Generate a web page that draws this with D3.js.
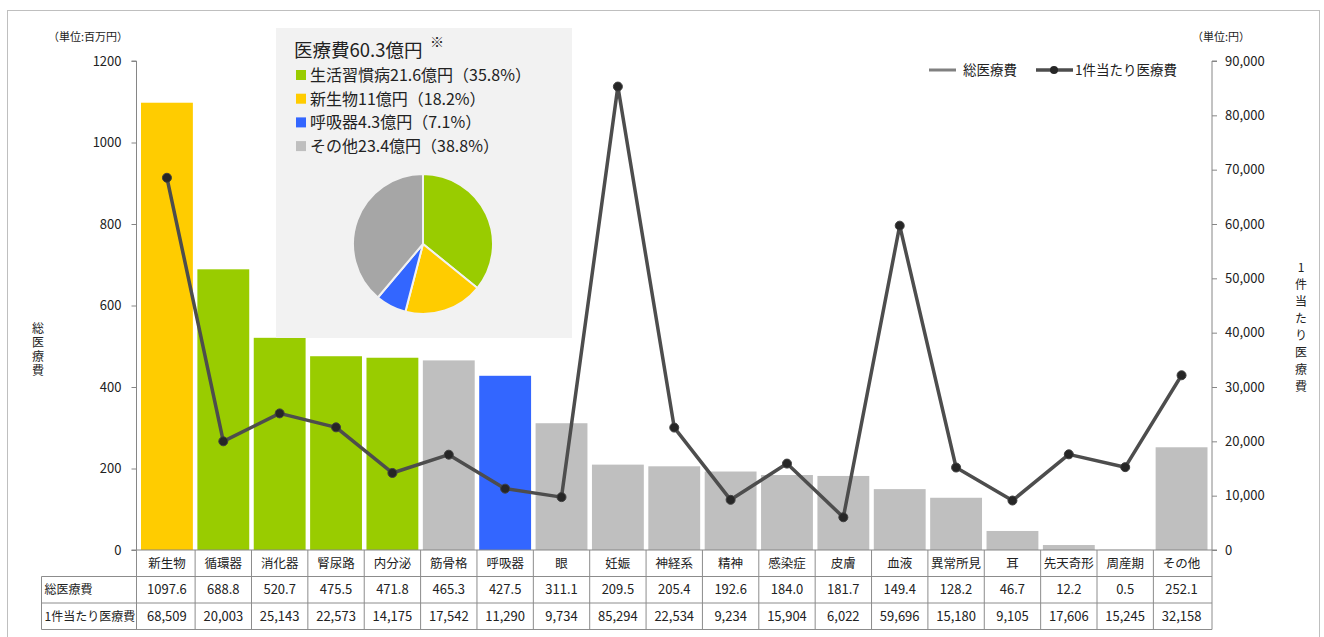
<!DOCTYPE html>
<html><head><meta charset="utf-8">
<script src="https://cdn.jsdelivr.net/npm/d3@7/dist/d3.min.js"></script>
<style>
body{margin:0;background:#fff;}
text{font-family:"Noto Sans CJK JP","Noto Sans",sans-serif;fill:#222;}
.vert{writing-mode:vertical-rl;text-orientation:upright;}
</style></head>
<body><svg id="c" width="1324" height="637"></svg>
<script>
const categories = ["新生物","循環器","消化器","腎尿路","内分泌","筋骨格","呼吸器","眼","妊娠","神経系","精神","感染症","皮膚","血液","異常所見","耳","先天奇形","周産期","その他"];
const totalCost = [1097.6,688.8,520.7,475.5,471.8,465.3,427.5,311.1,209.5,205.4,192.6,184.0,181.7,149.4,128.2,46.7,12.2,0.5,252.1];
const costPerCase = [68509,20003,25143,22573,14175,17542,11290,9734,85294,22534,9234,15904,6022,59696,15180,9105,17606,15245,32158];
const groups = ["yellow","green","green","green","green","gray","blue","gray","gray","gray","gray","gray","gray","gray","gray","gray","gray","gray","gray"];
const leftTicks = [0,200,400,600,800,1000,1200];
const rightTicks = [0,10000,20000,30000,40000,50000,60000,70000,80000,90000];
const pieLabels = ["生活習慣病21.6億円（35.8%）","新生物11億円（18.2%）","呼吸器4.3億円（7.1%）","その他23.4億円（38.8%）"];
const pieValues = [35.8,18.2,7.1,38.8];
const pieGroups = ["green","yellow","blue","gray"];
const colors = {yellow:"#FFCC00",green:"#99CC00",blue:"#3366FF",gray:"#BFBFBF"};
const pieColors = {yellow:"#FFCC00",green:"#99CC00",blue:"#3366FF",gray:"#A6A6A6"};

const svg = d3.select("#c");
svg.append("rect").attr("x",7.5).attr("y",10.5).attr("width",1312).attr("height",640)
  .attr("fill","none").attr("stroke","#BFBFBF");

const x0 = 136.5, x1 = 1212, yTop = 61, yBot = 550;
const x = d3.scaleBand().domain(categories).range([x0,x1]).padding(0.08);
const yL = d3.scaleLinear().domain([0,1200]).range([yBot,yTop]);
const yR = d3.scaleLinear().domain([0,90000]).range([yBot,yTop]);

svg.append("g").selectAll("rect").data(categories).join("rect")
  .attr("x",d=>x(d)).attr("width",x.bandwidth())
  .attr("y",(d,i)=>yL(totalCost[i])).attr("height",(d,i)=>yBot-yL(totalCost[i]))
  .attr("fill",(d,i)=>colors[groups[i]]);

const axL = svg.append("g").attr("transform",`translate(${x0},0)`)
  .call(d3.axisLeft(yL).tickValues(leftTicks).tickSize(5).tickPadding(10).tickFormat(d3.format("d")));
const axR = svg.append("g").attr("transform",`translate(${x1},0)`)
  .call(d3.axisRight(yR).tickValues(rightTicks).tickSize(5).tickPadding(8).tickFormat(d3.format(",")));
[axL,axR].forEach(a=>{
  a.select(".domain").attr("stroke","#868686").attr("d", a===axL? `M-5,${yTop}H0V${yBot}H-5` : `M5,${yTop}H0V${yBot}H5`);
  a.selectAll(".tick line").attr("stroke","#868686");
  a.selectAll(".tick text").attr("font-size",13).attr("fill","#222").style("font-family",'"Noto Sans CJK JP",sans-serif');
});
svg.append("line").attr("x1",x0).attr("x2",x1).attr("y1",yBot).attr("y2",yBot).attr("stroke","#868686");

const cx = (d,i)=>x(categories[i])+x.bandwidth()/2;
svg.append("path").datum(costPerCase)
  .attr("d",d3.line().x((d,i)=>cx(d,i)).y(d=>yR(d)))
  .attr("fill","none").attr("stroke","#4D4D4D").attr("stroke-width",3.5).attr("stroke-linejoin","round");
svg.append("g").selectAll("circle").data(costPerCase).join("circle")
  .attr("cx",(d,i)=>cx(d,i)).attr("cy",d=>yR(d)).attr("r",4.5)
  .attr("fill","#262626").attr("stroke","#404040").attr("stroke-width",1);

svg.append("text").attr("x",88).attr("y",41).attr("text-anchor","middle").attr("font-size",11).text("（単位:百万円）");
svg.append("text").attr("x",1221).attr("y",41).attr("text-anchor","middle").attr("font-size",11).text("（単位:円）");

// vertical titles as single texts
svg.append("text").attr("class","vert").attr("x",38).attr("y",322)
  .attr("font-size",12).attr("letter-spacing","2px").text("総医療費");
svg.append("text").attr("class","vert").attr("x",1301).attr("y",261)
  .attr("font-size",12).attr("letter-spacing","5px").text("1件当たり医療費");

const lg = svg.append("g");
lg.append("line").attr("x1",929).attr("x2",956).attr("y1",70).attr("y2",70).attr("stroke","#808080").attr("stroke-width",3);
lg.append("text").attr("x",963).attr("y",75).attr("font-size",13.5).text("総医療費");
lg.append("line").attr("x1",1036).attr("x2",1073).attr("y1",70).attr("y2",70).attr("stroke","#4D4D4D").attr("stroke-width",3.5);
lg.append("circle").attr("cx",1054).attr("cy",70).attr("r",4).attr("fill","#262626");
lg.append("text").attr("x",1075).attr("y",75).attr("font-size",13.5).text("1件当たり医療費");

svg.append("rect").attr("x",276).attr("y",28).attr("width",296).attr("height",310).attr("fill","#F2F2F2");
svg.append("text").attr("x",294).attr("y",57).attr("font-size",18.5).text("医療費60.3億円");
svg.append("text").attr("x",430).attr("y",47).attr("font-size",14).text("※");
pieLabels.forEach((t,i)=>{
  const yy = 75 + i*23.7;
  svg.append("rect").attr("x",296).attr("y",yy-5).attr("width",10).attr("height",10).attr("fill",colors[pieGroups[i]]);
  svg.append("text").attr("x",310).attr("y",yy+6).attr("font-size",16).text(t);
});
const pie = d3.pie().sort(null).value(d=>d)(pieValues);
const arc = d3.arc().innerRadius(0).outerRadius(70);
svg.append("g").attr("transform","translate(423,244)").selectAll("path").data(pie).join("path")
  .attr("d",arc).attr("fill",(d,i)=>pieColors[pieGroups[i]]).attr("stroke","#F2F2F2").attr("stroke-width",2);

const tb = svg.append("g");
const rowY = [550,576.5,603,629.5];
const hdrX = 41.5;
const stroke = "#8C8C8C";
const rows = [categories, totalCost.map(d=>d3.format(".1f")(d)), costPerCase.map(d=>d3.format(",")(d))];
const rowNames = [null,"総医療費","1件当たり医療費"];
rows.forEach((r,ri)=>{
  r.forEach((v,ci)=>{
    const xl = x(categories[ci]) - x.step()*x.paddingInner()/2;
    tb.append("text").attr("x",xl+x.step()/2).attr("y",(rowY[ri]+rowY[ri+1])/2+4.5)
      .attr("text-anchor","middle").attr("font-size",ri===0?12.5:13).text(v);
  });
  if(rowNames[ri]) tb.append("text").attr("x",hdrX+3).attr("y",(rowY[ri]+rowY[ri+1])/2+4.5).attr("font-size",12).text(rowNames[ri]);
});
[576.5,603,629.5].forEach(yy=>tb.append("line").attr("x1",hdrX).attr("x2",x1).attr("y1",yy).attr("y2",yy).attr("stroke",stroke));
tb.append("line").attr("x1",x0).attr("x2",x0).attr("y1",550).attr("y2",629.5).attr("stroke",stroke);
tb.append("line").attr("x1",hdrX).attr("x2",hdrX).attr("y1",576.5).attr("y2",629.5).attr("stroke",stroke);
categories.forEach((c,i)=>{
  const xr = x(c) + x.bandwidth() + x.step()*x.paddingInner()/2;
  const xx = i===categories.length-1 ? x1 : xr;
  tb.append("line").attr("x1",xx).attr("x2",xx).attr("y1",550).attr("y2",629.5).attr("stroke",stroke);
});
</script></body></html>
